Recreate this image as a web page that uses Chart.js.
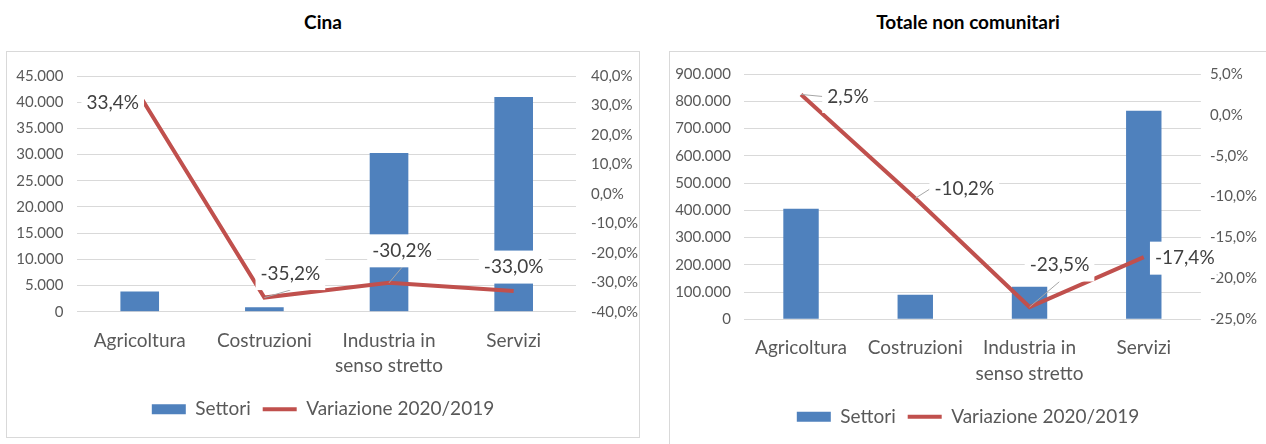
<!DOCTYPE html>
<html>
<head>
<meta charset="utf-8">
<script src="https://cdn.jsdelivr.net/npm/chart.js@4.4.1/dist/chart.umd.min.js"></script>
<style>
  body { margin: 0; background: #fff; width: 1266px; height: 444px; overflow: hidden; position: relative; font-family: Lato, sans-serif; }
  .titolo { position: absolute; top: 10px; font-weight: bold; font-size: 19px; color: #000; text-align: center; }
  .riquadro { position: absolute; border: 1px solid #d9d9d9; box-sizing: border-box; }
  .riquadro canvas { position: absolute; left: 0; top: 0; }
</style>
</head>
<body>
<div class="titolo" style="left:6px;width:634px">Cina</div>
<div class="titolo" style="left:669px;width:598px">Totale non comunitari</div>
<div class="riquadro" style="left:6px;top:51px;width:634px;height:387px"><canvas id="cina" width="632" height="385"></canvas></div>
<div class="riquadro" style="left:669px;top:51px;width:600px;height:400px"><canvas id="totale" width="596" height="398"></canvas></div>

<script>
// dati
const categorie = ['Agricoltura', 'Costruzioni', ['Industria in', 'senso stretto'], 'Servizi'];

const cinaSettori = [3880, 830, 30300, 41000];
const cinaVariazione = [33.4, -35.2, -30.2, -33.0];

const totaleSettori = [406000, 90000, 119000, 765000];
const totaleVariazione = [2.5, -10.2, -23.5, -17.4];

const BLU = '#4f81bd';
const ROSSO = '#c0504d';
const GRIGIO_TESTO = '#595959';

Chart.defaults.font.family = 'Lato';

function migliaia(v) {
    return String(Math.round(v)).replace(/\B(?=(\d{3})+(?!\d))/g, '.');
}

function percento(v) {
    return (Math.round(v * 10) / 10).toFixed(1).replace('.', ',') + '%';
}

// etichette dati della linea, con riquadro bianco e linea guida
const etichette = {
    id: 'etichette',
    afterDatasetsDraw(chart, args, opts) {
        const ctx = chart.ctx;
        const meta = chart.getDatasetMeta(1);
        const valori = chart.data.datasets[1].data;
        ctx.save();
        ctx.font = '19px Lato';
        meta.data.forEach((pt, i) => {
            const o = opts.pos[i];
            const testo = percento(valori[i]);
            const w = ctx.measureText(testo).width + 10;
            const h = 33;
            const cx = pt.x + o[0];
            const cy = pt.y + o[1];
            const l = cx - w / 2;
            const t = cy - h / 2;

            if (o[2]) {
                let tx, ty;
                if (Math.abs(o[1]) > Math.abs(o[0]) * 0.6) {
                    tx = cx;
                    ty = o[1] < 0 ? t + h : t;
                } else {
                    tx = o[0] > 0 ? l : l + w;
                    ty = cy;
                }
                ctx.strokeStyle = '#a6a6a6';
                ctx.lineWidth = 1;
                ctx.beginPath();
                ctx.moveTo(pt.x, pt.y);
                ctx.lineTo(tx, ty);
                ctx.stroke();
            }

            ctx.fillStyle = '#fff';
            ctx.fillRect(l, t, w, h);
            ctx.fillStyle = '#404040';
            ctx.textAlign = 'center';
            ctx.textBaseline = 'middle';
            ctx.fillText(testo, cx, cy);
        });
        ctx.restore();
    }
};

function creaGrafico(id, settori, variazione, cfg) {
    const ctx = document.getElementById(id).getContext('2d');
    return new Chart(ctx, {
        type: 'bar',
        data: {
            labels: categorie,
            datasets: [
                {
                    type: 'bar',
                    label: 'Settori',
                    data: settori,
                    backgroundColor: BLU,
                    borderWidth: 0,
                    barPercentage: 0.31,
                    categoryPercentage: 1,
                    yAxisID: 'y',
                    order: 1
                },
                {
                    type: 'line',
                    label: 'Variazione 2020/2019',
                    data: variazione,
                    borderColor: ROSSO,
                    backgroundColor: ROSSO,
                    borderWidth: 4,
                    pointRadius: 0,
                    tension: 0,
                    fill: false,
                    yAxisID: 'y1',
                    order: 0
                }
            ]
        },
        plugins: [etichette],
        options: {
            responsive: false,
            animation: false,
            layout: {
                padding: { top: cfg.top, bottom: cfg.bottom, left: 0, right: 0 }
            },
            scales: {
                x: {
                    grid: { display: false, drawTicks: false },
                    border: { display: false },
                    ticks: {
                        color: GRIGIO_TESTO,
                        padding: 16.5,
                        maxRotation: 0,
                        autoSkip: false,
                        font: { size: 19, lineHeight: 1.32 }
                    },
                    afterFit: s => { s.height = cfg.altezzaX; }
                },
                y: {
                    position: 'left',
                    min: 0,
                    max: cfg.maxSettori,
                    grid: { color: '#d9d9d9', drawTicks: false, lineWidth: 1 },
                    border: { display: false },
                    ticks: {
                        stepSize: cfg.passoSettori,
                        color: GRIGIO_TESTO,
                        padding: cfg.padSx,
                        font: { size: 15 },
                        callback: v => migliaia(v)
                    },
                    afterFit: s => { s.width = cfg.larghezzaSx; }
                },
                y1: {
                    position: 'right',
                    min: cfg.minVar,
                    max: cfg.maxVar,
                    grid: { display: false, drawOnChartArea: false, drawTicks: false },
                    border: { display: false },
                    ticks: {
                        stepSize: cfg.passoVar,
                        color: GRIGIO_TESTO,
                        padding: cfg.padDx,
                        font: { size: 15 },
                        callback: v => percento(v)
                    },
                    afterFit: s => { s.width = cfg.larghezzaDx; }
                }
            },
            plugins: {
                tooltip: { enabled: false },
                legend: {
                    position: 'bottom',
                    labels: {
                        color: GRIGIO_TESTO,
                        font: { size: 19 },
                        padding: 12,
                        usePointStyle: true,
                        boxHeight: 10,
                        pointStyleWidth: 34,
                        sort: (a, b) => a.datasetIndex - b.datasetIndex,
                        generateLabels(chart) {
                            const items = Chart.defaults.plugins.legend.labels.generateLabels(chart);
                            items.forEach(it => {
                                if (it.datasetIndex === 0) {
                                    it.pointStyle = 'rect';
                                    it.fillStyle = BLU;
                                    it.lineWidth = 0;
                                } else {
                                    it.pointStyle = 'line';
                                    it.strokeStyle = ROSSO;
                                    it.lineWidth = 4;
                                }
                            });
                            return items;
                        }
                    }
                },
                etichette: { pos: cfg.posEtichette }
            }
        }
    });
}

creaGrafico('cina', cinaSettori, cinaVariazione, {
    top: 19.7, bottom: 8.3, altezzaX: 76,
    larghezzaSx: 70.4, larghezzaDx: 63, padSx: 14, padDx: 15,
    maxSettori: 45000, passoSettori: 5000,
    minVar: -40, maxVar: 40, passoVar: 10,
    // [dx, dy, linea guida]
    posEtichette: [[-27, 7, false], [26, -24, true], [13, -32, true], [0, -24, false]]
});

creaGrafico('totale', totaleSettori, totaleVariazione, {
    top: 20.3, bottom: 13.7, altezzaX: 76,
    larghezzaSx: 73.9, larghezzaDx: 65.1, padSx: 13, padDx: 9,
    maxSettori: 900000, passoSettori: 100000,
    minVar: -25, maxVar: 5, passoVar: 5,
    posEtichette: [[47, 2, true], [49, -9, true], [30, -42, true], [41, 1, false]]
});
</script>
</body>
</html>
